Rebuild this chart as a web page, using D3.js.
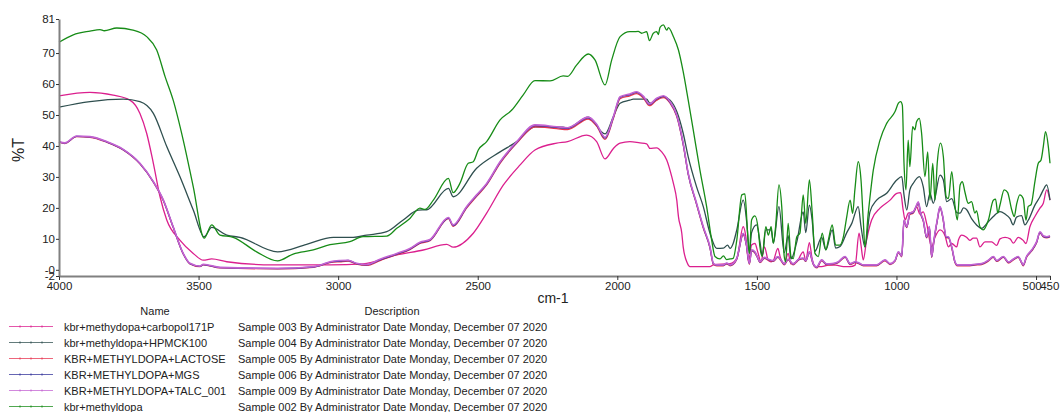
<!DOCTYPE html>
<html>
<head>
<meta charset="utf-8">
<script src="https://cdn.jsdelivr.net/npm/d3@7"></script>
<style>
  body { margin: 0; background: #fff; }
  svg { display: block; font-family: "Liberation Sans", Arial, sans-serif; }
</style>
</head>
<body>
<svg id="chart" width="1061" height="412"></svg>
<script>
// Axis ticks
const xTicks = [4000, 3500, 3000, 2500, 2000, 1500, 1000, 500, 450];
const yTicks = [81, 70, 60, 50, 40, 30, 20, 10, 0, -2];
const yTickLabels = ["81", "70", "60", "50", "40", "30", "20", "10", "-0", "-2"];

// Legend text
const sampleNames = [
  "kbr+methydopa+carbopol171P",
  "kbr+methyldopa+HPMCK100",
  "KBR+METHYLDOPA+LACTOSE",
  "KBR+METHYLDOPA+MGS",
  "KBR+METHYLDOPA+TALC_001",
  "kbr+methyldopa"
];
const sampleDescriptions = [
  "Sample 003 By Administrator Date Monday, December 07 2020",
  "Sample 004 By Administrator Date Monday, December 07 2020",
  "Sample 005 By Administrator Date Monday, December 07 2020",
  "Sample 006 By Administrator Date Monday, December 07 2020",
  "Sample 009 By Administrator Date Monday, December 07 2020",
  "Sample 002 By Administrator Date Monday, December 07 2020"
];
const sampleColors = ["#db1f8e", "#2f4f4f", "#e8344f", "#33339a", "#c462d2", "#178c17"];

// Spectra: [wavenumber cm-1, %T]
const carbopol = [
  [4000,56.2],[3889,57.3],[3806,56.4],[3746,54.8],[3710,50.5],[3686,44.1],[3662,34.4],[3638,23.6],
  [3614,16.1],[3567,9.6],[3519,5.3],[3483,3.1],[3453,3.5],[3399,2.6],[3233,1.6],[3029,1.6],
  [2911,1.9],[2790,4.8],[2695,6.4],[2611,8.2],[2588,7.3],[2516,11.8],[2468,18.3],[2408,27.4],
  [2349,33.8],[2295,38.7],[2217,40.9],[2178,41.4],[2110,43.5],[2074,41.4],[2044,35.8],[2014,39.2],
  [1990,40.9],[1955,41.4],[1919,41.0],[1895,40.7],[1883,39.2],[1859,39.4],[1841,38.1],[1823,35.5],
  [1805,30.1],[1799,27.9],[1787,22.5],[1781,17.2],[1769,11.8],[1764,7.4],[1749,2.1],[1740,1.0],
  [1668,1.0],[1656,1.6],[1596,2.0],[1572,3.7],[1549,13.9],[1540,11.0],[1530,2.5],[1519,8.0],
  [1507,8.5],[1497,5.8],[1485,2.6],[1473,7.4],[1459,3.0],[1449,2.6],[1441,3.0],[1425,6.9],
  [1416,4.0],[1402,1.9],[1388,5.3],[1378,1.9],[1357,2.6],[1334,5.8],[1325,3.0],[1312,8.8],
  [1302,3.5],[1292,1.0],[1268,1.0],[1244,1.5],[1218,1.5],[1190,1.0],[1166,1.0],[1148,1.5],
  [1134,11.8],[1127,8.0],[1119,3.2],[1107,9.6],[1089,16.1],[1059,19.9],[1023,22.5],[999,24.7],
  [985,24.9],[976,19.3],[969,16.1],[958,18.3],[940,18.7],[928,20.4],[916,18.0],[904,18.7],
  [892,15.0],[874,7.4],[862,10.5],[844,12.9],[826,11.0],[814,7.4],[802,8.5],[784,7.4],
  [778,9.6],[766,11.2],[749,10.5],[737,9.5],[725,10.2],[713,10.2],[701,7.4],[683,9.0],
  [659,9.0],[641,7.9],[629,10.0],[611,10.5],[593,10.0],[581,8.6],[564,10.5],[546,9.5],
  [536,8.5],[522,13.9],[504,17.2],[486,19.9],[474,21.5],[462,25.8],[450,22.5]
];

const hpmc = [
  [4000,52.5],[3889,54.3],[3770,55.1],[3710,54.3],[3662,50.5],[3614,39.8],[3567,30.1],[3519,19.3],
  [3480,10.7],[3453,13.7],[3399,11.2],[3352,10.5],[3217,5.8],[3113,8.2],[3017,10.5],[2946,10.5],
  [2898,11.2],[2826,12.3],[2767,16.1],[2713,19.3],[2683,19.4],[2605,26.3],[2588,23.6],[2504,32.8],
  [2420,38.1],[2360,41.4],[2295,46.2],[2194,46.1],[2178,45.8],[2104,49.3],[2044,43.9],[2014,49.5],
  [1990,53.8],[1955,54.8],[1943,55.1],[1895,55.1],[1883,53.8],[1835,55.9],[1811,54.8],[1787,51.1],
  [1764,44.1],[1746,36.5],[1716,26.8],[1692,20.4],[1668,11.8],[1644,6.9],[1620,7.0],[1605,8.0],
  [1596,6.9],[1585,8.5],[1572,12.9],[1549,22.5],[1536,15.0],[1527,5.3],[1519,12.0],[1501,14.5],
  [1489,9.0],[1481,4.5],[1468,12.9],[1449,12.9],[1441,8.6],[1421,20.4],[1402,5.5],[1388,11.0],
  [1378,3.5],[1357,9.0],[1334,18.7],[1325,12.0],[1312,20.9],[1302,16.0],[1292,6.0],[1268,10.5],
  [1253,6.5],[1230,12.9],[1218,7.0],[1202,7.5],[1178,12.0],[1160,15.0],[1137,20.4],[1127,14.0],
  [1113,7.4],[1095,18.7],[1071,22.5],[1035,24.7],[999,29.0],[981,30.1],[973,24.2],[963,19.3],
  [952,25.8],[940,27.9],[918,30.1],[904,26.8],[892,20.4],[880,24.7],[868,21.5],[844,30.6],
  [832,29.0],[820,22.0],[802,23.0],[784,18.5],[772,18.3],[760,20.0],[749,19.5],[731,16.5],
  [713,14.5],[695,13.4],[671,15.5],[653,17.2],[629,18.8],[611,18.0],[593,16.5],[582,14.5],
  [570,17.0],[552,17.5],[540,14.5],[528,16.0],[504,20.9],[486,23.6],[474,25.8],[462,27.4],[450,22.5]
];

const lactose = [
  [4000,41.2],[3979,40.8],[3937,43.0],[3889,42.8],[3829,41.2],[3770,38.7],[3710,34.2],[3662,28.3],
  [3626,22.3],[3591,13.7],[3555,5.1],[3531,1.9],[3495,1.0],[3483,1.6],[3423,0.6],[3217,0.3],
  [3089,0.8],[3065,1.3],[3029,2.3],[2993,2.6],[2964,2.8],[2934,1.8],[2898,1.4],[2850,3.0],
  [2790,4.9],[2743,6.5],[2707,8.5],[2671,9.4],[2605,16.5],[2588,14.0],[2540,19.9],[2504,23.7],
  [2468,27.4],[2420,34.4],[2360,40.9],[2295,46.2],[2217,45.6],[2178,45.3],[2104,48.7],[2074,46.4],
  [2044,42.1],[2014,48.9],[1990,55.3],[1955,56.2],[1931,56.9],[1907,55.5],[1885,53.0],[1859,54.8],
  [1835,55.6],[1811,53.8],[1787,49.5],[1764,40.4],[1746,30.8],[1716,21.1],[1692,13.5],[1668,7.0],
  [1656,1.8],[1644,1.3],[1620,1.3],[1608,1.9],[1596,1.3],[1585,1.7],[1572,3.4],[1549,11.4],
  [1537,7.6],[1527,1.8],[1519,6.1],[1507,5.4],[1497,3.7],[1489,2.3],[1473,3.7],[1459,3.1],
  [1441,2.7],[1425,4.0],[1412,2.7],[1402,1.6],[1388,3.2],[1370,1.6],[1350,3.2],[1334,3.5],
  [1325,2.7],[1312,5.5],[1298,1.7],[1286,0.6],[1268,2.9],[1250,1.6],[1230,1.7],[1210,2.2],
  [1184,4.0],[1166,1.7],[1148,2.3],[1134,1.9],[1119,1.3],[1095,1.3],[1071,1.3],[1041,2.9],
  [1023,1.7],[1005,2.8],[993,5.5],[981,4.2],[973,15.7],[963,13.6],[952,17.9],[940,18.3],
  [928,20.5],[922,21.6],[913,17.9],[904,15.7],[892,10.3],[882,13.6],[874,4.0],[866,9.1],
  [854,15.7],[844,20.0],[834,16.8],[822,10.3],[814,10.3],[802,7.1],[790,2.2],[782,1.3],
  [772,1.3],[754,1.3],[737,1.3],[719,1.5],[695,1.7],[671,2.8],[653,4.0],[641,2.7],
  [617,4.0],[599,2.2],[581,3.2],[564,4.0],[552,2.2],[546,1.3],[534,4.0],[516,6.0],
  [498,8.7],[486,11.9],[474,10.6],[462,10.3],[450,10.6]
];

const mgs = [
  [4000,41.3],[3979,40.9],[3937,43.1],[3889,42.9],[3829,41.3],[3770,38.8],[3710,34.3],[3662,28.4],
  [3626,22.4],[3591,13.8],[3555,5.2],[3531,2.0],[3495,1.1],[3483,1.7],[3423,0.7],[3217,0.4],
  [3089,0.9],[3065,1.4],[3029,2.5],[2993,2.8],[2964,3.0],[2934,2.0],[2898,1.6],[2850,3.2],
  [2790,5.1],[2743,6.7],[2707,8.7],[2671,9.6],[2605,16.7],[2588,14.3],[2540,20.2],[2504,24.0],
  [2468,27.7],[2420,34.7],[2360,41.2],[2295,46.6],[2217,46.0],[2178,45.7],[2104,49.1],[2074,46.8],
  [2044,42.5],[2014,49.3],[1990,55.7],[1955,56.6],[1931,57.3],[1907,55.9],[1885,53.4],[1859,55.2],
  [1835,56.0],[1811,54.1],[1787,49.8],[1764,40.7],[1746,31.0],[1716,21.3],[1692,13.7],[1668,7.2],
  [1656,2.0],[1644,1.5],[1620,1.5],[1608,2.1],[1596,1.5],[1585,1.9],[1572,3.6],[1549,11.6],
  [1537,7.8],[1527,2.0],[1519,6.3],[1507,5.6],[1497,3.9],[1489,2.5],[1473,3.9],[1459,3.3],
  [1441,2.9],[1425,4.2],[1412,2.9],[1402,1.8],[1388,3.4],[1370,1.8],[1350,3.4],[1334,3.7],
  [1325,2.9],[1312,5.7],[1298,1.9],[1286,0.8],[1268,3.1],[1250,1.8],[1230,1.9],[1210,2.4],
  [1184,4.2],[1166,1.9],[1148,2.5],[1134,2.1],[1119,1.5],[1095,1.5],[1071,1.5],[1041,3.1],
  [1023,1.9],[1005,3.0],[993,5.7],[981,4.4],[973,15.9],[963,13.8],[952,18.1],[940,18.5],
  [928,20.7],[922,21.8],[913,18.1],[904,15.9],[892,10.5],[882,13.8],[874,4.2],[866,9.3],
  [854,15.9],[844,20.2],[834,17.0],[822,10.5],[814,10.5],[802,7.3],[790,2.4],[782,1.5],
  [772,1.5],[754,1.5],[737,1.5],[719,1.7],[695,1.9],[671,3.0],[653,4.2],[641,2.9],
  [617,4.2],[599,2.4],[581,3.4],[564,4.2],[552,2.4],[546,1.5],[534,4.2],[516,6.2],
  [498,8.9],[486,12.1],[474,10.8],[462,10.5],[450,10.8]
];

const talc = [
  [4000,41.4],[3979,41.0],[3937,43.2],[3889,43.0],[3829,41.4],[3770,38.9],[3710,34.4],[3662,28.5],
  [3626,22.5],[3591,13.9],[3555,5.3],[3531,2.1],[3495,1.2],[3483,1.8],[3423,0.8],[3217,0.5],
  [3089,1.0],[3065,1.5],[3029,2.6],[2993,3.0],[2964,3.1],[2934,2.1],[2898,1.7],[2850,3.4],
  [2790,5.3],[2743,6.9],[2707,8.9],[2671,9.8],[2605,16.9],[2588,14.5],[2540,20.4],[2504,24.2],
  [2468,27.9],[2420,34.9],[2360,41.4],[2295,46.8],[2217,46.2],[2178,45.9],[2104,49.3],[2074,47.0],
  [2044,42.8],[2014,49.5],[1990,55.9],[1955,56.8],[1931,57.5],[1907,56.1],[1885,53.6],[1859,55.4],
  [1835,56.2],[1811,54.3],[1787,50.0],[1764,40.9],[1746,31.2],[1716,21.5],[1692,13.9],[1668,7.4],
  [1656,2.1],[1644,1.6],[1620,1.6],[1608,2.2],[1596,1.6],[1585,2.0],[1572,3.7],[1549,11.8],
  [1537,8.0],[1527,2.1],[1519,6.5],[1507,5.8],[1497,4.0],[1489,2.6],[1473,4.0],[1459,3.4],
  [1441,3.0],[1425,4.3],[1412,3.0],[1402,1.9],[1388,3.5],[1370,1.9],[1350,3.5],[1334,3.8],
  [1325,3.0],[1312,5.8],[1298,2.0],[1286,0.9],[1268,3.2],[1250,1.9],[1230,2.0],[1210,2.5],
  [1184,4.3],[1166,2.0],[1148,2.6],[1134,2.2],[1119,1.6],[1095,1.6],[1071,1.6],[1041,3.2],
  [1023,2.0],[1005,3.1],[993,5.8],[981,4.5],[973,16.1],[963,14.0],[952,18.3],[940,18.7],
  [928,20.9],[922,22.0],[913,18.3],[904,16.1],[892,10.7],[882,14.0],[874,4.3],[866,9.5],
  [854,16.1],[844,20.4],[834,17.2],[822,10.7],[814,10.7],[802,7.5],[790,2.5],[782,1.6],
  [772,1.6],[754,1.6],[737,1.6],[719,1.8],[695,2.0],[671,3.1],[653,4.3],[641,3.0],
  [617,4.3],[599,2.5],[581,3.5],[564,4.3],[552,2.5],[546,1.6],[534,4.3],[516,6.4],
  [498,9.1],[486,12.3],[474,11.0],[462,10.7],[450,11.0]
];

const methyldopa = [
  [4000,73.5],[3949,75.9],[3889,77.1],[3853,77.6],[3838,77.2],[3793,78.1],[3735,77.4],[3686,75.3],
  [3650,71.0],[3620,62.4],[3591,54.8],[3555,41.9],[3519,26.8],[3480,10.2],[3453,14.5],[3423,11.2],
  [3376,10.5],[3292,5.8],[3217,2.9],[3161,5.1],[3089,6.4],[3029,8.1],[2958,9.1],[2911,10.7],
  [2826,10.9],[2790,13.4],[2743,16.6],[2707,19.9],[2689,19.5],[2659,22.5],[2605,29.5],[2588,24.9],
  [2564,27.9],[2534,34.4],[2516,34.9],[2498,38.7],[2468,41.4],[2420,48.4],[2378,51.6],[2337,56.5],
  [2295,61.1],[2241,61.0],[2194,62.6],[2178,62.5],[2146,66.1],[2104,69.7],[2080,67.8],[2044,59.7],
  [2020,67.8],[1990,75.3],[1955,76.9],[1943,76.9],[1925,77.0],[1913,76.4],[1895,76.9],[1885,74.0],
  [1871,76.4],[1859,76.9],[1853,76.0],[1847,78.3],[1835,79.1],[1823,77.4],[1817,78.2],[1799,75.3],
  [1781,71.0],[1764,64.0],[1746,54.8],[1728,45.2],[1704,32.2],[1680,20.4],[1662,9.6],[1650,4.3],
  [1632,3.5],[1620,4.5],[1608,3.3],[1596,3.5],[1585,3.7],[1572,9.6],[1554,24.2],[1543,24.5],
  [1534,12.9],[1527,5.3],[1519,16.1],[1507,17.4],[1495,12.9],[1489,7.4],[1481,4.3],[1468,13.9],
  [1459,11.2],[1449,13.9],[1441,8.6],[1433,13.9],[1421,27.4],[1411,20.4],[1402,4.3],[1397,2.6],
  [1388,15.0],[1378,4.3],[1370,3.6],[1357,10.7],[1346,11.8],[1334,24.2],[1325,15.0],[1312,29.0],
  [1302,18.7],[1292,5.3],[1280,4.3],[1266,11.8],[1253,6.4],[1244,9.6],[1230,14.5],[1218,8.0],
  [1202,8.0],[1190,10.7],[1178,17.2],[1166,22.5],[1157,18.2],[1149,25.8],[1137,34.9],[1127,29.0],
  [1119,16.1],[1113,7.4],[1101,18.3],[1083,32.2],[1059,41.9],[1035,47.3],[1005,51.1],[993,53.8],
  [985,54.3],[979,53.2],[973,34.4],[966,25.8],[958,41.9],[952,33.3],[942,46.2],[934,45.2],
  [928,47.8],[918,48.9],[910,44.1],[898,30.1],[888,38.1],[880,22.5],[870,34.4],[862,22.5],
  [854,34.4],[842,40.9],[832,36.5],[822,23.6],[814,23.0],[802,31.7],[790,20.4],[782,16.1],
  [772,27.4],[764,28.5],[755,25.2],[743,21.5],[731,22.0],[719,18.3],[713,19.0],[701,13.9],
  [689,12.9],[671,16.0],[653,22.5],[645,22.8],[637,18.3],[629,21.0],[614,25.8],[602,25.0],
  [587,19.3],[578,17.2],[570,21.0],[558,24.2],[546,23.0],[536,16.0],[528,20.5],[518,21.0],
  [504,28.5],[492,34.4],[482,35.5],[474,39.8],[466,44.6],[456,39.8],[450,34.4]
];

// Plotting order (last drawn is on top); legend keeps its own order
const spectra = [carbopol, hpmc, lactose, mgs, talc, methyldopa];
const drawOrder = [0, 1, 2, 3, 4, 5];

const svg = d3.select("#chart");
const x = d3.scaleLinear().domain([4000, 450]).range([59, 1050]);
const y = d3.scaleLinear().domain([-2, 81]).range([276, 19]);

const axisColor = "#808080";
const textColor = "#222";

// Spectra lines
const line = d3.line().x(d => x(d[0])).y(d => y(d[1])).curve(d3.curveMonotoneX);
const plot = svg.append("g");
drawOrder.forEach(i => {
  plot.append("path")
    .datum(spectra[i])
    .attr("d", line)
    .attr("fill", "none")
    .attr("stroke", sampleColors[i])
    .attr("stroke-width", i === 4 ? 1.6 : 1.3)
    .attr("stroke-linejoin", "round");
});

// X axis
const xAxis = svg.append("g")
  .attr("transform", `translate(0,${y(-2)})`)
  .call(d3.axisBottom(x).tickValues(xTicks).tickSize(4).tickSizeOuter(0).tickPadding(2)
    .tickFormat(d3.format("d")));
xAxis.select(".domain").attr("stroke", axisColor).attr("stroke-width", 2);
xAxis.selectAll(".tick line").attr("stroke", "#333");
xAxis.selectAll(".tick text")
  .attr("fill", textColor).style("font-size", "11.5px")
  .attr("text-anchor", d => d === 500 ? "end" : d === 450 ? "start" : "middle")
  .attr("dx", d => d === 500 ? "0.45em" : d === 450 ? "-0.9em" : 0);

// Y axis
const yAxis = svg.append("g")
  .attr("transform", `translate(${x(4000)},0)`)
  .call(d3.axisLeft(y).tickValues(yTicks).tickSize(3).tickSizeOuter(0).tickPadding(1)
    .tickFormat((d, i) => yTickLabels[i]));
yAxis.select(".domain").attr("stroke", axisColor).attr("stroke-width", 2);
yAxis.selectAll(".tick line").attr("stroke", "#333");
yAxis.selectAll(".tick text").attr("fill", textColor).style("font-size", "11.5px");

// Axis titles
svg.append("text")
  .attr("transform", "translate(24,150) rotate(-90)")
  .attr("text-anchor", "middle")
  .attr("fill", textColor)
  .style("font-size", "16px")
  .text("%T");
svg.append("text")
  .attr("x", 553).attr("y", 303)
  .attr("text-anchor", "middle")
  .attr("fill", textColor)
  .style("font-size", "14px")
  .text("cm-1");

// Legend table
const legend = svg.append("g").style("font-size", "11px").attr("fill", textColor);
legend.append("text").attr("x", 155).attr("y", 315).attr("text-anchor", "middle").text("Name");
legend.append("text").attr("x", 392).attr("y", 315).attr("text-anchor", "middle").text("Description");
sampleNames.forEach((name, i) => {
  const cy = 326.5 + i * 16;
  const row = legend.append("g");
  row.append("line")
    .attr("x1", 9).attr("x2", 53).attr("y1", cy).attr("y2", cy)
    .attr("stroke", sampleColors[i]).attr("stroke-width", 1.2).attr("opacity", 0.75);
  [20, 31, 42].forEach(px => {
    row.append("line")
      .attr("x1", px).attr("x2", px).attr("y1", cy - 1).attr("y2", cy + 1)
      .attr("stroke", sampleColors[i]).attr("stroke-width", 1);
  });
  row.append("text").attr("x", 64).attr("y", cy + 4).text(name);
  row.append("text").attr("x", 238).attr("y", cy + 4).text(sampleDescriptions[i]);
});
</script>
</body>
</html>
